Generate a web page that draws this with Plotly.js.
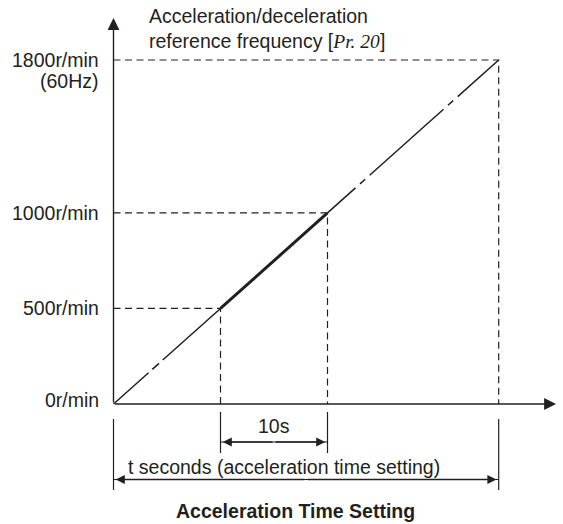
<!DOCTYPE html>
<html><head><meta charset="utf-8">
<script src="https://cdn.plot.ly/plotly-3.0.1.min.js"></script>
<style>html,body{margin:0;padding:0;background:#fff}</style>
</head><body><div id="chart" style="width:563px;height:524px"></div>
<script>
// ---- data ----
const speeds = [0, 500, 1000, 1800];          // r/min
const times = [0, 10, 20, 36];                // s
const speedLabels = ['0r/min', '500r/min', '1000r/min', '1800r/min'];
const freqLabel = '(60Hz)';
const stepLabel = '10s';
const totalLabel = 't seconds (acceleration time setting)';
const axisTitle = 'Acceleration/deceleration<br>reference frequency [<span style="font-family:\'Liberation Serif\',serif"><i>Pr. 20</i></span>]';
const chartTitle = 'Acceleration Time Setting';

// ---- layout geometry ----
const W = 563, H = 524, OX = 113.5, OY = 404, TOPPX = 60, ENDPX = 498.7;
const SX = (ENDPX - OX) / times[3], SY = (OY - TOPPX) / speeds[3];
const xr = [-OX / SX, (W - OX) / SX], yr = [-(H - OY) / SY, OY / SY];
const px2x = p => (p - OX) / SX;
const py2y = p => (OY - p) / SY;
const pyP = p => 1 - p / H;
const pxP = p => p / W;

const INK = '#231f20';
const FONT = {family: 'Liberation Sans, Arial, sans-serif', size: 19.5, color: INK};

const traces = [];
// guide dashed lines
for (let i = 1; i < speeds.length; i++) {
  traces.push({x: [0, times[i], times[i]], y: [speeds[i], speeds[i], 0], mode: 'lines',
    line: {color: INK, width: 1.2, dash: '7px,4.5px'}, hoverinfo: 'skip'});
}
// ramp
traces.push({x: [times[0], times[1]], y: [speeds[0], speeds[1]], mode: 'lines',
  line: {color: INK, width: 1.5, dash: '47px,5px,9px,5px,300px'}, hoverinfo: 'skip'});
traces.push({x: [times[1], times[2]], y: [speeds[1], speeds[2]], mode: 'lines',
  line: {color: INK, width: 3}, hoverinfo: 'skip'});
traces.push({x: [times[3], times[2]], y: [speeds[3], speeds[2]], mode: 'lines',
  line: {color: INK, width: 1.5, dash: '55px,6px,7px,6px,99px,6px,7px,6px,300px'}, hoverinfo: 'skip'});

const shapes = [];
function vline(x, p0, p1) {
  shapes.push({type: 'line', xref: 'x', yref: 'paper', x0: x, x1: x, y0: pyP(p0), y1: pyP(p1),
    line: {color: INK, width: 1.2}});
}
function hline(xa, xb, p) {
  shapes.push({type: 'line', xref: 'x', yref: 'paper', x0: xa, x1: xb, y0: pyP(p), y1: pyP(p),
    line: {color: INK, width: 1.2}});
}
vline(times[0], 419, 490);
vline(times[3], 419, 490);
vline(times[1], 412, 453);
vline(times[2], 412, 453);
hline(times[1], times[2], 442);
hline(times[0], times[3], 479.5);

const annotations = [];
function head(xTip, xTail, p) {
  annotations.push({x: xTip, y: pyP(p), xref: 'x', yref: 'paper', ax: xTail, ay: 0,
    axref: 'x', ayref: 'pixel', text: '', showarrow: true, arrowhead: 2, arrowsize: 1.4,
    arrowwidth: 1.3, arrowcolor: INK, standoff: 2.2});
}
head(times[1], (times[1] + times[2]) / 2, 442);
head(times[2], (times[1] + times[2]) / 2, 442);
head(times[0], times[3] / 2, 479.5);
head(times[3], times[3] / 2, 479.5);

// axes with arrows
annotations.push({x: px2x(556), y: 0, xref: 'x', yref: 'y', ax: 0, ay: 0, axref: 'x', ayref: 'y',
  text: '', showarrow: true, arrowhead: 2, arrowsize: 1.7, arrowwidth: 1.4, arrowcolor: INK, standoff: 0});
annotations.push({x: 0, y: py2y(18), xref: 'x', yref: 'y', ax: 0, ay: 0, axref: 'x', ayref: 'y',
  text: '', showarrow: true, arrowhead: 2, arrowsize: 1.7, arrowwidth: 1.4, arrowcolor: INK, standoff: 0});

// y labels
for (let i = 0; i < speeds.length; i++) {
  annotations.push({x: 0, y: speeds[i], xref: 'x', yref: 'y', text: speedLabels[i], showarrow: false,
    xanchor: 'right', yanchor: 'middle', xshift: -13, yshift: i === 0 ? 4 : 0, font: FONT});
}
annotations.push({x: 0, y: speeds[3], xref: 'x', yref: 'y', text: freqLabel, showarrow: false,
  xanchor: 'right', yanchor: 'middle', xshift: -13, yshift: -21, font: FONT});

annotations.push({x: (times[1] + times[2]) / 2, y: pyP(426), xref: 'x', yref: 'paper', text: stepLabel,
  showarrow: false, xanchor: 'center', yanchor: 'middle', font: FONT});
annotations.push({x: times[0], y: pyP(467), xref: 'x', yref: 'paper', text: totalLabel,
  showarrow: false, xanchor: 'left', yanchor: 'middle', xshift: 12, font: FONT});
annotations.push({x: pxP(147), y: pyP(29), xref: 'paper', yref: 'paper', text: axisTitle,
  showarrow: false, xanchor: 'left', yanchor: 'middle', align: 'left', font: FONT});
annotations.push({x: pxP(295), y: pyP(511), xref: 'paper', yref: 'paper', text: '<b>' + chartTitle + '</b>',
  showarrow: false, xanchor: 'center', yanchor: 'middle', font: FONT});

const layout = {
  width: W, height: H, margin: {l: 0, r: 0, t: 0, b: 0},
  paper_bgcolor: '#fff', plot_bgcolor: '#fff', showlegend: false,
  xaxis: {range: xr, visible: false, fixedrange: true},
  yaxis: {range: yr, visible: false, fixedrange: true},
  shapes: shapes, annotations: annotations
};
Plotly.newPlot('chart', traces, layout, {staticPlot: true, displayModeBar: false});
</script></body></html>
